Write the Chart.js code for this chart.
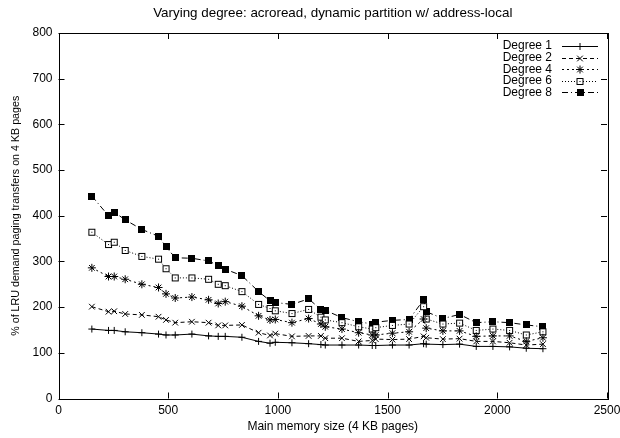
<!DOCTYPE html>
<html>
<head>
<meta charset="utf-8">
<script src="https://cdn.jsdelivr.net/npm/chart.js@4.4.0/dist/chart.umd.min.js"></script>
<style>
html, body { margin: 0; padding: 0; background: #fff; }
</style>
</head>
<body>
<canvas id="degree" width="620" height="438"></canvas>
<script>
var memSizes = [152, 228, 254, 304, 380, 456, 490, 532, 608, 684, 728, 760, 836, 912, 964, 988, 1064, 1140, 1196, 1216,
    1292, 1368, 1430, 1446, 1522, 1598, 1664, 1676, 1752, 1828, 1904, 1980, 2056, 2132, 2208];
var degree1 = [152, 149, 149, 146, 144, 141, 139, 139, 141, 137, 136, 136, 134, 125, 121, 123, 122, 120, 118, 117,
    117, 117, 116, 116, 117, 117, 120, 119, 118, 119, 114, 114, 113, 110, 109];
var degree2 = [201, 190, 191, 185, 183, 179, 172, 166, 168, 166, 160, 160, 161, 144, 138, 142, 136, 137, 137, 132,
    132, 125, 127, 130, 129, 130, 136, 133, 130, 131, 125, 125, 122, 117, 119];
var degree4 = [286, 267, 267, 261, 250, 243, 229, 220, 222, 216, 208, 212, 202, 181, 172, 173, 166, 175, 163, 157,
    152, 144, 139, 139, 143, 146, 174, 154, 148, 148, 136, 137, 137, 125, 133];
var degree6 = [364, 337, 342, 324, 311, 305, 284, 264, 264, 261, 250, 247, 234, 206, 197, 192, 186, 195, 178, 172,
    166, 157, 152, 155, 160, 163, 201, 174, 163, 165, 149, 152, 149, 139, 146];
var degree8 = [443, 400, 408, 391, 370, 355, 332, 308, 307, 301, 291, 283, 269, 234, 214, 210, 206, 218, 195, 193,
    177, 168, 163, 167, 171, 173, 216, 190, 175, 184, 166, 168, 166, 161, 157];
var xTicks = [0, 500, 1000, 1500, 2000, 2500];
var yTicks = [0, 100, 200, 300, 400, 500, 600, 700, 800];

var FAMILY = "'Liberation Sans', Arial, sans-serif";
var FONT = {family: FAMILY, size: 12};

function openSquare() {
    var c = document.createElement('canvas');
    c.width = 9;
    c.height = 9;
    var ctx = c.getContext('2d');
    ctx.fillStyle = '#fff';
    ctx.fillRect(1, 1, 7, 7);
    ctx.strokeStyle = '#000';
    ctx.lineWidth = 1;
    ctx.strokeRect(1.5, 1.5, 6, 6);
    ctx.fillStyle = '#000';
    ctx.fillRect(4, 4, 1, 1);
    return c;
}

function filledSquare() {
    var c = document.createElement('canvas');
    c.width = 7;
    c.height = 7;
    var ctx = c.getContext('2d');
    ctx.fillStyle = '#000';
    ctx.fillRect(0, 0, 7, 7);
    return c;
}

function points(values) {
    return values.map((v, i) => ({x: memSizes[i], y: v}));
}

function serie(label, values, dash, style, radius) {
    return {
        label: label,
        data: points(values),
        borderColor: '#000',
        backgroundColor: '#000',
        borderWidth: 1,
        borderDash: dash,
        pointStyle: style,
        pointRadius: radius,
        pointBorderWidth: 1,
        pointBorderColor: '#000',
        pointBackgroundColor: '#000',
        tension: 0
    };
}

// gnuplot-like frame, inward ticks, title and key
const gnuplotFrame = {
    id: 'gnuplotFrame',
    afterDraw(chart) {
        const ctx = chart.ctx;
        const a = chart.chartArea;
        const sx = chart.scales.x;
        const sy = chart.scales.y;
        ctx.save();
        ctx.strokeStyle = '#000';
        ctx.lineWidth = 1;
        ctx.setLineDash([]);
        ctx.strokeRect(Math.round(a.left) + 0.5, Math.round(a.top) + 0.5,
            Math.round(a.right - a.left), Math.round(a.bottom - a.top));
        ctx.beginPath();
        xTicks.forEach(v => {
            let px = Math.round(sx.getPixelForValue(v)) + 0.5;
            ctx.moveTo(px, a.bottom);
            ctx.lineTo(px, a.bottom - 6);
            ctx.moveTo(px, a.top);
            ctx.lineTo(px, a.top + 6);
        });
        yTicks.forEach(v => {
            let py = Math.round(sy.getPixelForValue(v)) + 0.5;
            ctx.moveTo(a.left, py);
            ctx.lineTo(a.left + 6, py);
            ctx.moveTo(a.right, py);
            ctx.lineTo(a.right - 6, py);
        });
        ctx.stroke();

        ctx.fillStyle = '#000';
        ctx.font = '13.4px ' + FAMILY;
        ctx.textAlign = 'center';
        ctx.textBaseline = 'middle';
        ctx.fillText('Varying degree: acroread, dynamic partition w/ address-local', (a.left + a.right) / 2, 13);

        // key
        ctx.font = '12px ' + FAMILY;
        ctx.textAlign = 'right';
        chart.data.datasets.forEach((ds, i) => {
            let y = 46 + i * 11.6;
            ctx.fillStyle = '#000';
            ctx.fillText(ds.label, 552, y);
            ctx.beginPath();
            ctx.setLineDash(ds.borderDash);
            ctx.moveTo(562, Math.round(y) + 0.5);
            ctx.lineTo(598, Math.round(y) + 0.5);
            ctx.stroke();
            ctx.setLineDash([]);
            Chart.helpers.drawPoint(ctx, {
                pointStyle: ds.pointStyle,
                radius: ds.pointRadius,
                borderWidth: 1,
                rotation: 0
            }, 580, Math.round(y) + 0.5);
        });
        ctx.restore();
    }
};

const config = {
    type: 'line',
    data: {
        datasets: [
            serie('Degree 1', degree1, [], 'cross', 3.5),
            serie('Degree 2', degree2, [4, 3], 'crossRot', 4),
            serie('Degree 4', degree4, [2, 3], 'star', 4),
            serie('Degree 6', degree6, [1, 2], openSquare(), 4.5),
            serie('Degree 8', degree8, [6, 3, 1, 3], filledSquare(), 3.5)
        ]
    },
    options: {
        responsive: false,
        animation: false,
        devicePixelRatio: 1,
        layout: {
            padding: {top: 33, right: 13, left: 0, bottom: 0}
        },
        scales: {
            x: {
                type: 'linear',
                min: 0,
                max: 2500,
                afterBuildTicks: function (scale) {
                    scale.ticks = xTicks.map(v => ({value: v}));
                },
                afterFit: function (scale) {
                    scale.height = 39.5;
                    scale.paddingLeft = 0;
                    scale.paddingRight = 0;
                },
                grid: {display: false, drawTicks: false},
                border: {display: false},
                ticks: {
                    color: '#000',
                    font: FONT,
                    padding: 5,
                    maxRotation: 0,
                    callback: function (value) {
                        return String(value);
                    }
                },
                title: {
                    display: true,
                    text: 'Main memory size (4 KB pages)',
                    color: '#000',
                    font: FONT,
                    padding: {top: 0, bottom: 4.5}
                }
            },
            y: {
                type: 'linear',
                min: 0,
                max: 800,
                afterBuildTicks: function (scale) {
                    scale.ticks = yTicks.map(v => ({value: v}));
                },
                afterFit: function (scale) {
                    scale.width = 58.5;
                },
                grid: {display: false, drawTicks: false},
                border: {display: false},
                ticks: {
                    color: '#000',
                    font: FONT,
                    padding: 6,
                    callback: function (value) {
                        return String(value);
                    }
                },
                title: {
                    display: true,
                    text: '% of LRU demand paging transfers on 4 KB pages',
                    color: '#000',
                    font: {family: FAMILY, size: 10.7},
                    padding: {top: 10, bottom: 0}
                }
            }
        },
        plugins: {
            legend: {display: false},
            title: {display: false},
            tooltip: {enabled: false}
        }
    },
    plugins: [gnuplotFrame]
};
const graphic = new Chart(document.getElementById('degree'), config);
</script>
</body>
</html>
